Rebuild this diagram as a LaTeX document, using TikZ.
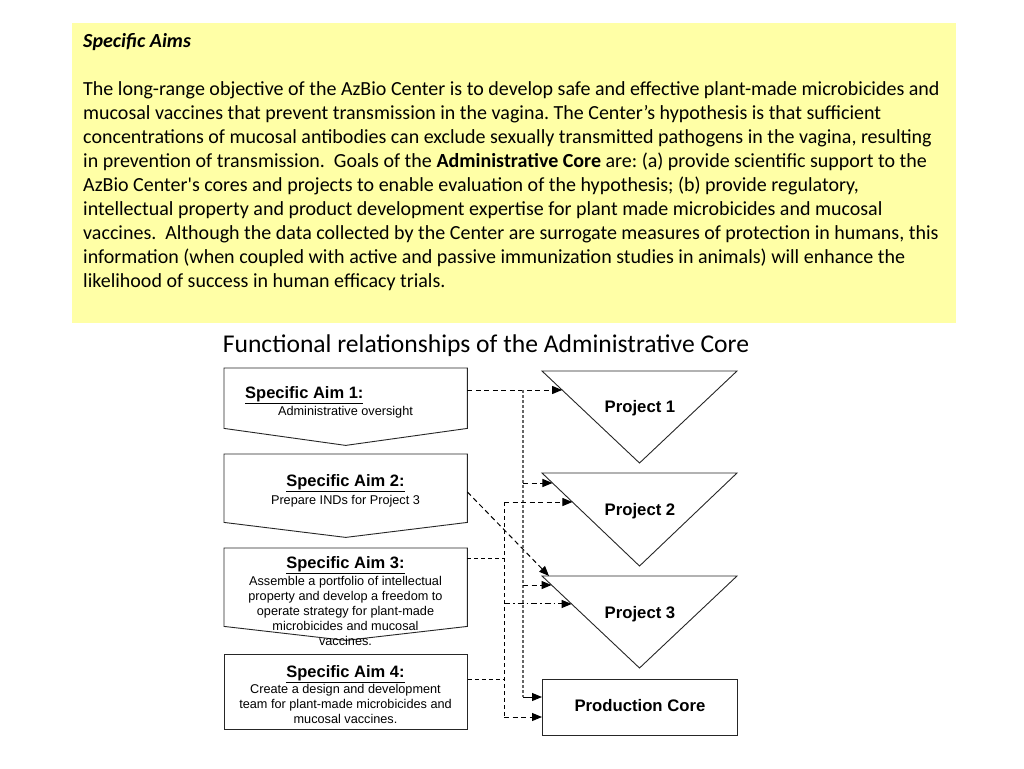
\documentclass[tikz,border=0pt]{standalone}
\usepackage{fontspec}
\setmainfont{Carlito}
\newfontfamily\arialf{Liberation Sans}
\usetikzlibrary{arrows.meta,calc}
\definecolor{yellowbg}{RGB}{255,255,166}
\frenchspacing
\tikzset{
  shapeline/.style={draw=black!85, line width=0.9pt},
  aimbox/.style={draw=none, minimum width=243pt, inner sep=0pt, anchor=north west},
  aimtitle/.style={font=\arialf\bfseries\fontsize{16.5}{19}\selectfont, inner sep=0pt, anchor=base},
  aimdesc/.style={font=\arialf\fontsize{12.7}{15}\selectfont, inner sep=0pt, align=center, anchor=base},
  projlabel/.style={font=\arialf\bfseries\fontsize{16.7}{20}\selectfont, inner sep=0pt, anchor=base},
  arr/.style={-{Triangle[length=10pt,width=8pt]}},
  conn/.style={black, line width=1pt, dash pattern=on 5pt off 3.5pt},
  fineconn/.style={black, line width=0.9pt, dash pattern=on 4pt off 3pt},
  grayconn/.style={black!60, line width=1.2pt, dash pattern=on 3pt off 2pt},
  dotdash/.style={black, line width=1pt, dash pattern=on 6pt off 3pt on 1.5pt off 3pt},
}
\begin{document}
\begin{tikzpicture}[x=1pt,y=-1pt]
\useasboundingbox (0,0) rectangle (1024,768);
\fill[white] (0,0) rectangle (1024,768);

% yellow box
\node[fill=yellowbg, minimum width=884pt, minimum height=300pt, inner sep=0pt, anchor=north west] (spec) at (72,23) {};
\node[font=\fontsize{20}{24}\selectfont, align=left, inner sep=0pt, anchor=base west] (spectext) at (83,287) {%
\textbf{\textit{Specific Aims}}\\[24pt]
The long-range objective of the AzBio Center is to develop safe and effective plant-made microbicides and\\
mucosal vaccines that prevent transmission in the vagina. The Center’s hypothesis is that sufficient\\
concentrations of mucosal antibodies can exclude sexually transmitted pathogens in the vagina, resulting\\
in prevention of transmission.~ Goals of the \textbf{Administrative Core} are: (a) provide scientific support to the\\
AzBio Center\textquotesingle s cores and projects to enable evaluation of the hypothesis; (b) provide regulatory,\\
intellectual property and product development expertise for plant made microbicides and mucosal\\
vaccines.~ Although the data collected by the Center are surrogate measures of protection in humans, this\\
information (when coupled with active and passive immunization studies in animals) will enhance the\\
likelihood of success in human efficacy trials.};

% title
\node[font=\fontsize{25.6}{30}\selectfont, inner sep=0pt, anchor=base] (title) at (486,352) {Functional relationships of the Administrative Core};

% aim boxes
\node[aimbox, minimum height=60pt] (a1) at (224,368) {};
\draw[shapeline] (a1.north west) -- (a1.north east) -- (a1.south east) -- ($(a1.south)+(0,17)$) -- (a1.south west) -- cycle;
\node[aimbox, minimum height=68pt] (a2) at (224,454) {};
\draw[shapeline] (a2.north west) -- (a2.north east) -- (a2.south east) -- ($(a2.south)+(0,15)$) -- (a2.south west) -- cycle;
\node[aimbox, minimum height=78pt] (a3) at (224,548) {};
\draw[shapeline] (a3.north west) -- (a3.north east) -- (a3.south east) -- ($(a3.south)+(0,14)$) -- (a3.south west) -- cycle;
\node[aimbox, shapeline, minimum height=75pt] (a4) at (224,654) {};

\node[aimtitle, anchor=base west] (a1t) at (245,398) {\underline{Specific Aim 1:}};
\node[aimdesc] (a1d) at (345.5,415) {Administrative oversight};
\node[aimtitle] (a2t) at (345.5,486) {\underline{Specific Aim 2:}};
\node[aimdesc] (a2d) at (345.5,504) {Prepare INDs for Project 3};
\node[aimtitle] (a3t) at (345.5,568) {\underline{Specific Aim 3:}};
\node[aimdesc] (a3d) at (345.5,645) {Assemble a portfolio of intellectual\\property and develop a freedom to\\operate strategy for plant-made\\microbicides and mucosal\\vaccines.};
\node[aimtitle] (a4t) at (345.5,677) {\underline{Specific Aim 4:}};
\node[aimdesc] (a4d) at (345.5,723) {Create a design and development\\team for plant-made microbicides and\\mucosal vaccines.};

% project triangles
\coordinate (p1l) at (542,371); \coordinate (p1r) at (737,371); \coordinate (p1c) at (639.5,463);
\coordinate (p2l) at (542,473); \coordinate (p2r) at (737,473); \coordinate (p2c) at (639.5,566);
\coordinate (p3l) at (542,576); \coordinate (p3r) at (737,576); \coordinate (p3c) at (639.5,668);
\draw[shapeline] (p1l) -- (p1r) -- (p1c) -- cycle;
\draw[shapeline] (p2l) -- (p2r) -- (p2c) -- cycle;
\draw[shapeline] (p3l) -- (p3r) -- (p3c) -- cycle;
\node[projlabel] (p1) at (640,412) {Project 1};
\node[projlabel] (p2) at (640,515) {Project 2};
\node[projlabel] (p3) at (640,618) {Project 3};
\node[shapeline, minimum width=195pt, minimum height=56pt, inner sep=0pt, anchor=north west] (pc) at (542,679) {};
\node[projlabel] (pct) at (pc.center |- 0,711) {Production Core};

% connector end points
\coordinate (e1) at ($(p1l)!0.2065!(p1c)$);
\coordinate (e21) at ($(p2l)!0.1075!(p2c)$);
\coordinate (e22) at ($(p2l)!0.312!(p2c)$);
\coordinate (e31) at ($(p3l)!0.098!(p3c)$);
\coordinate (e32) at ($(p3l)!0.304!(p3c)$);
\coordinate (e33) at ($(p3l)+(7,0)$);
\coordinate (epc1) at ($(pc.north west)+(0,18)$);
\coordinate (epc2) at ($(pc.north west)+(0,38)$);
\coordinate (ja) at (523,0);
\coordinate (jb) at (504,0);

% Aim 1 connectors
\draw[conn, arr] (e1 -| a1.east) -- (e1);
\draw[grayconn] (e1 -| ja) -- (epc1 -| ja);
\draw[conn, arr] (e21 -| ja) -- (e21);
\draw[conn, arr] (e31 -| ja) -- (e31);
\draw[black, line width=1pt, arr] (epc1 -| ja) -- (epc1);

% Aim 2 connector
\draw[conn, arr] ($(a2.north east)+(0,38)$) -- (e33);

% Aim 3 / Aim 4 connectors
\draw[fineconn] ($(a3.north east)+(0,10)$) -- ($(a3.north east)+(37,10)$);
\draw[fineconn] ($(a4.north east)+(0,25)$) -- ($(a4.north east)+(37,25)$);
\draw[fineconn] (e22 -| jb) -- (epc2 -| jb);
\draw[conn, arr] (e22 -| jb) -- (e22);
\draw[dotdash, arr] (e32 -| jb) -- (e32);
\draw[conn, arr] (epc2 -| jb) -- (epc2);
\end{tikzpicture}
\end{document}
